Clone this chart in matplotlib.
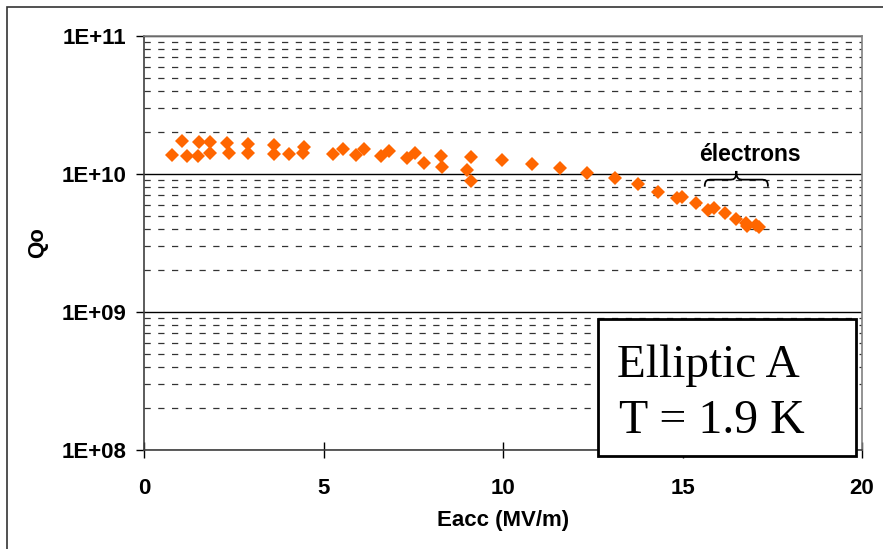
import matplotlib
matplotlib.use('Agg')
import matplotlib.pyplot as plt
from matplotlib.patches import Rectangle, PathPatch
from matplotlib.path import Path
from matplotlib.ticker import LogLocator, FixedLocator
import numpy as np

# measured points: Eacc (MV/m) and Qo
eacc = [0.78, 1.06, 1.20, 1.50, 1.53, 1.85, 1.85, 2.31, 2.37, 2.90, 2.90,
        3.62, 3.62, 4.04, 4.46, 4.43,
        5.27, 5.54, 5.91, 6.14, 6.59, 6.83, 7.32, 7.56, 7.81, 8.28, 8.31,
        9.11, 9.01, 9.11, 9.98, 10.80, 11.59, 12.33, 13.11, 13.77, 14.33,
        14.86, 14.98, 15.38, 15.72, 15.89, 16.19, 16.49, 16.77, 16.79,
        17.05, 17.12]
qo = [1.37e10, 1.73e10, 1.35e10, 1.34e10, 1.70e10, 1.70e10, 1.42e10,
      1.67e10, 1.42e10, 1.65e10, 1.42e10, 1.63e10, 1.39e10, 1.39e10,
      1.57e10, 1.41e10,
      1.395e10, 1.51e10, 1.37e10, 1.53e10, 1.34e10, 1.46e10, 1.31e10,
      1.41e10, 1.21e10, 1.36e10, 1.12e10, 1.32e10, 1.07e10, 8.9e9,
      1.26e10, 1.18e10, 1.10e10, 1.02e10, 9.31e9, 8.40e9, 7.45e9,
      6.75e9, 6.86e9, 6.14e9, 5.49e9, 5.71e9, 5.20e9, 4.71e9, 4.45e9,
      4.21e9, 4.29e9, 4.13e9]

x_ticks = [0, 5, 10, 15, 20]
y_ticks = [1e8, 1e9, 1e10, 1e11]
y_labels = ['1E+08', '1E+09', '1E+10', '1E+11']

W, H = 883, 549
fig = plt.figure(figsize=(W / 100, H / 100), dpi=100)
ax = fig.add_axes([144 / W, 1 - 450 / H, 718 / W, 414 / H])

ax.plot(eacc, qo, linestyle='none', marker='D', markersize=7,
        color='#FF6600', markeredgewidth=0, zorder=5)

ax.set_yscale('log')
ax.set_xlim(0, 20)
ax.set_ylim(1e8, 1e11)
ax.set_xticks(x_ticks)
ax.set_yticks(y_ticks)
ax.set_yticklabels(y_labels)
ax.yaxis.set_minor_locator(LogLocator(base=10, subs=np.arange(2, 10)))
ax.yaxis.set_minor_formatter(plt.NullFormatter())

ax.grid(which='major', axis='y', color='black', linewidth=1.0)
ax.grid(which='minor', axis='y', color='#333333', linewidth=0.9,
        linestyle=(0, (5, 6)))
ax.xaxis.set_minor_locator(FixedLocator([5, 10, 15]))
ax.grid(which='minor', axis='x', color='black', linewidth=1.0)

font = 'Liberation Sans'
ax.tick_params(axis='y', which='major', direction='out', length=6,
               width=1, pad=6.5, labelsize=16)
ax.tick_params(axis='x', which='major', direction='inout', length=12,
               width=1, pad=14, labelsize=16)
ax.tick_params(which='minor', length=0)
for lab in ax.get_xticklabels() + ax.get_yticklabels():
    lab.set_fontfamily(font)
    lab.set_fontweight('bold')

for side in ['top', 'right']:
    ax.spines[side].set_color('#808080')
    ax.spines[side].set_linewidth(1.2)
for side in ['left', 'bottom']:
    ax.spines[side].set_color('#404040')
    ax.spines[side].set_linewidth(1.2)

ax.set_xlabel('Eacc (MV/m)', fontfamily=font, fontweight='bold',
              fontsize=16, labelpad=8)
ax.set_ylabel('Qo', fontfamily=font, fontweight='bold', fontsize=16,
              labelpad=10)

# annotation "électrons" with a curly brace
ax.text(0.844, 0.713, 'électrons', transform=ax.transAxes, ha='center',
        va='center', fontfamily=font, fontweight='bold', fontsize=16.5)
x0, x1, xm = 0.781, 0.869, 0.825
yb, yl, yt = 0.636, 0.653, 0.674
verts = [(x0, yb), (x0, yl), (x0 + 0.004, yl), (x0 + 0.01, yl),
         (xm - 0.01, yl), (xm - 0.004, yl), (xm, yl), (xm, yt),
         (xm, yl), (xm + 0.004, yl), (xm + 0.01, yl),
         (x1 - 0.01, yl), (x1 - 0.004, yl), (x1, yl), (x1, yb)]
codes = [Path.MOVETO, Path.CURVE4, Path.CURVE4, Path.CURVE4,
         Path.LINETO, Path.CURVE4, Path.CURVE4, Path.CURVE4,
         Path.CURVE4, Path.CURVE4, Path.CURVE4,
         Path.LINETO, Path.CURVE4, Path.CURVE4, Path.CURVE4]
ax.add_patch(PathPatch(Path(verts, codes), transform=ax.transAxes,
                       facecolor='none', edgecolor='black', linewidth=1.3,
                       clip_on=False, zorder=6))

# text box
fig.patches.append(Rectangle((598 / W, 1 - 456 / H), 258 / W, 137 / H,
                             transform=fig.transFigure, facecolor='white',
                             edgecolor='black', linewidth=2, zorder=10))
fig.text(617 / W, 1 - 377 / H, 'Elliptic A', fontfamily='Liberation Serif',
         fontsize=34, ha='left', va='baseline', zorder=11)
fig.text(619 / W, 1 - 433 / H, 'T = 1.9 K', fontfamily='Liberation Serif',
         fontsize=34.5, ha='left', va='baseline', zorder=11)

# outer chart frame
fig.patches.append(Rectangle((7 / W, -0.1), 1.2, 1.1 - 7 / H,
                             transform=fig.transFigure, facecolor='none',
                             edgecolor='#333333', linewidth=1.2))

fig.savefig('out.png', dpi=100)
